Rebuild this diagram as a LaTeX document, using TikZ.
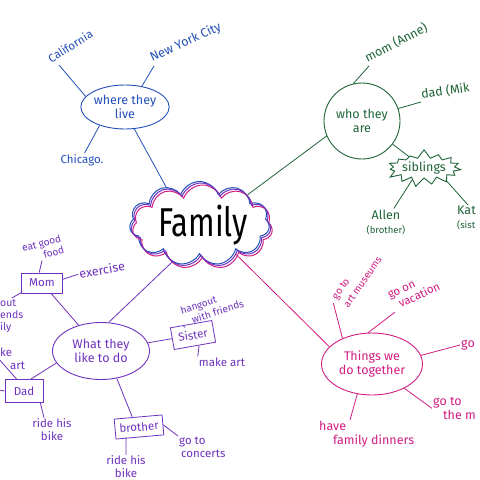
\documentclass[tikz,border=0pt]{standalone}
\usepackage{fontspec}
\setmainfont{Fira Sans}
\usetikzlibrary{shapes.geometric,shapes.symbols}
\definecolor{blueM}{RGB}{35,80,185}
\definecolor{greenM}{RGB}{30,100,55}
\definecolor{purpleM}{RGB}{110,50,190}
\definecolor{pinkM}{RGB}{210,30,130}
\begin{document}
\begin{tikzpicture}[x=1pt,y=-1pt,
  hubtext/.style={font=\fontsize{12.5}{14}\selectfont, align=center, inner sep=0pt, line width=0.9pt},
  leaf/.style={font=\fontsize{11.5}{13}\selectfont, inner sep=1pt},
  bigleaf/.style={font=\fontsize{12.5}{14}\selectfont, inner sep=1pt},
  smalltxt/.style={font=\fontsize{10}{12}\selectfont, inner sep=1pt},
  boxn/.style={draw, rectangle, line width=0.8pt, inner sep=2pt, font=\fontsize{11.5}{13}\selectfont},
  conn/.style={line width=0.8pt},
  cloudn/.style={cloud, cloud puffs=11, cloud puff arc=140, aspect=1.6, line width=1pt, minimum width=140pt, minimum height=84pt, inner sep=0pt}
]
\useasboundingbox (0,0) rectangle (480,480);
\fill[white] (0,0) rectangle (480,480);
\clip (0,0) rectangle (480,480);

% central cloud
\node[cloudn, draw=blueM] (famB) at (199.5,223.5) {};
\node[cloudn, draw=pinkM] (famP) at (202.5,227) {};
\node[cloudn, draw=purpleM] (fam) at (201,225) {};
\node[font=\fontsize{31}{31}\selectfont, text=black, transform shape, yscale=1.3] (famtext) at (203,225) {Family};

% blue branch
\begin{scope}[color=blueM]
\node[hubtext, draw, ellipse, minimum width=88pt, minimum height=44pt] (wtl) at (125,107) {where they\\live};
\node[leaf, rotate=32, anchor=south west] (cal) at (51,65) {California};
\node[bigleaf, rotate=25, anchor=south west] (nyc) at (153,66) {New York City};
\node[leaf] (chi) at (82,160) {Chicago.};
\draw[conn] (wtl.165) -- ([xshift=8pt]cal.south west);
\draw[conn] (wtl.51) -- ([xshift=1pt]nyc.south west);
\draw[conn] (wtl.216) -- (chi.70);
\draw[conn] (wtl.293) -- (fam.133);
\end{scope}

% green branch
\begin{scope}[color=greenM]
\node[hubtext, draw, circle, minimum size=76pt] (who) at (362,121) {who they\\are};
\node[bigleaf, rotate=28, anchor=south west] (mom) at (368,66) {mom (Anne)};
\node[bigleaf, rotate=8, anchor=south west] (dad) at (421,102) {dad (Mik};
\node[hubtext, starburst, starburst points=15, starburst point height=9pt, random starburst=7, draw, minimum width=76pt, minimum height=38pt] (sib) at (424,168) {siblings};
\node[bigleaf, align=center] (allen) at (386,222) {Allen\\{\fontsize{9.5}{9.5}\selectfont(brother)}};
\node[bigleaf, align=left, anchor=north west] (kat) at (456,205) {Kat\\{\fontsize{9.5}{9.5}\selectfont(sist}};
\draw[conn] (who.103) -- ([xshift=1pt]mom.south west);
\draw[conn] (who.19) -- (dad.south west);
\draw[conn] (who.203) -- (fam.33);
\draw[conn] (who) -- (sib);
\draw[conn] (sib.225) -- (allen.60);
\draw[conn] (sib.-30) -- ([xshift=12pt]kat.north west);
\end{scope}

% purple branch
\begin{scope}[color=purpleM]
\node[hubtext, draw, ellipse, minimum width=97pt, minimum height=57pt] (what) at (101,351) {What they\\like to do};
\node[boxn, minimum width=41pt, minimum height=20pt] (momP) at (42,283) {Mom};
\node[smalltxt, rotate=15, align=right] (eat) at (43,249) {eat good\\food};
\node[bigleaf, rotate=10] (exer) at (102,270) {exercise};
\node[leaf, align=left, anchor=north west, font=\fontsize{10.5}{12}\selectfont] (hwf) at (-1,298) {out\\ends\\ily};
\node[boxn, minimum width=38pt, minimum height=23pt] (dadP) at (24,391) {Dad};
\coordinate (dadL) at (-6,389);
\node[leaf, align=left, anchor=north west] (mka) at (-1,347) {ke\\\hspace{10pt}art};
\node[leaf, align=center] (rhb1) at (52,430) {ride his\\bike};
\node[boxn, rotate=10, minimum width=42pt, minimum height=22pt] (sis) at (193,335) {Sister};
\node[smalltxt, rotate=18, align=left] (hang) at (212,307) {hangout\\\hspace{8pt}with friends};
\node[leaf] (mkart) at (222,362) {make art};
\node[boxn, rotate=5, minimum width=48pt, minimum height=20pt] (bro) at (139,427) {brother};
\node[leaf, align=center] (rhb2) at (126,467) {ride his\\bike};
\node[leaf, align=left, anchor=north west] (gtc) at (178,436) {go to\\\hspace{2pt}concerts};
\draw[conn] (what.75) -- (fam.232);
\draw[conn] (momP) -- (what);
\draw[conn] (momP.105) -- (eat.250);
\draw[conn] (momP.10) -- (exer.west);
\draw[conn] (momP.205) -- (hwf.north);
\draw[conn] (dadP.west) -- (dadL);
\draw[conn] ([xshift=12pt]dadP.north west) -- (mka.west);
\draw[conn] (what.195) -- (dadP.60);
\draw[conn] ([xshift=-3pt]dadP.south east) -- ([xshift=-8pt]rhb1.north);
\draw[conn] (what) -- (sis);
\draw[conn] (sis.125) -- (hang.south west);
\draw[conn] (sis.290) -- (mkart.north west);
\draw[conn] (what.300) -- ([xshift=-6pt]bro.north);
\draw[conn] ([xshift=-14pt]bro.south) -- (rhb2.north);
\draw[conn] (bro.east) -- (gtc.north west);
\end{scope}

% pink branch
\begin{scope}[color=pinkM]
\node[hubtext, draw, ellipse, minimum width=101pt, minimum height=62pt] (things) at (372,364) {Things we\\do together};
\node[smalltxt, rotate=55, align=left, font=\fontsize{10}{14}\selectfont] (gam) at (357,278) {go to\\art museums};
\node[leaf, rotate=25, align=left] (gov) at (414,291) {go on\\\hspace{6pt}vacation};
\node[bigleaf, anchor=west] (go) at (460,345) {go};
\node[bigleaf, align=left, anchor=north west] (gtm) at (432,396) {go to\\\hspace{10pt}the m};
\node[bigleaf, align=left, anchor=north west] (hfd) at (318,420) {have\\\hspace{14pt}family dinners};
\draw[conn] (fam.-40) -- (things.158);
\draw[conn] (things.139) -- ([xshift=-6pt]gam.west);
\draw[conn] (things.97) -- (gov.south west);
\draw[conn] (things.10) -- (go.west);
\draw[conn] (things.-37) -- (gtm.west);
\draw[conn] (things.244) -- ([xshift=32pt]hfd.north west);
\end{scope}
\end{tikzpicture}
\end{document}
